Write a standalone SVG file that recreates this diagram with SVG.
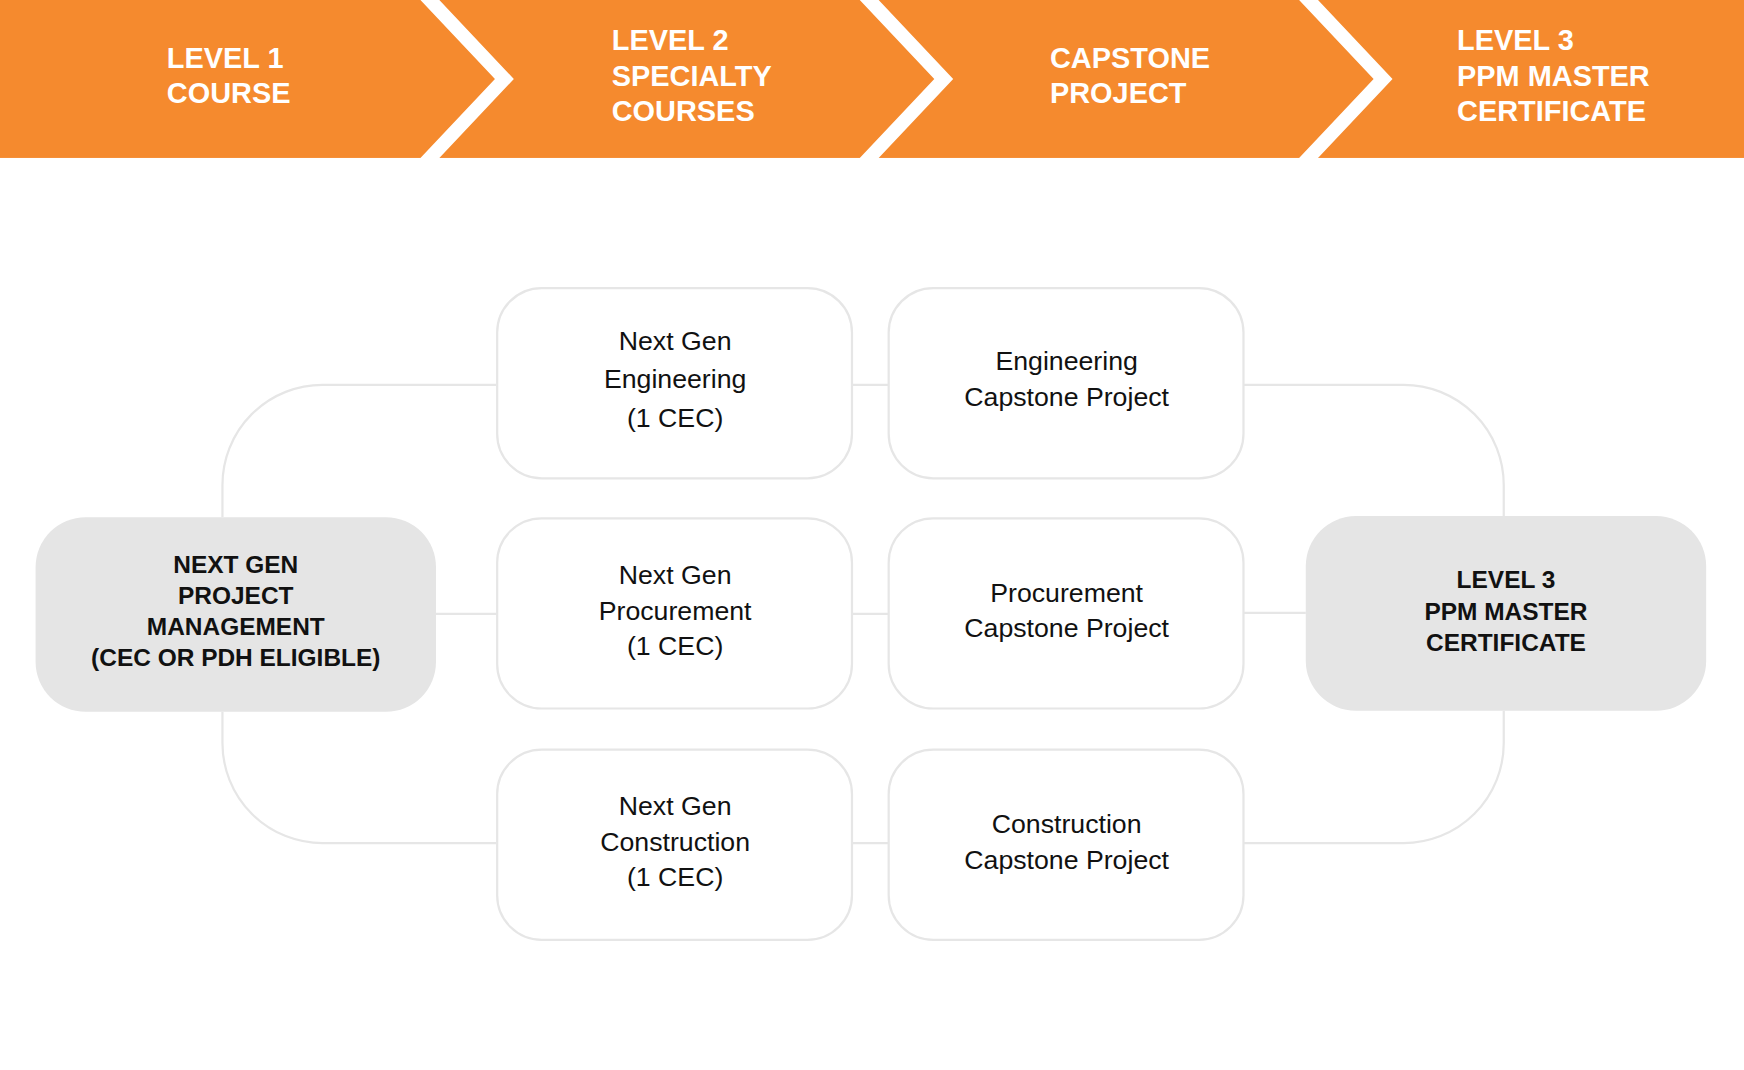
<svg xmlns="http://www.w3.org/2000/svg" width="1744" height="1070" viewBox="0 0 1744 1070">
<style>
.ban{fill:#fff;font-family:"Liberation Sans",Arial,sans-serif;font-weight:bold;font-size:26px}
.box{fill:#fff;stroke:#e6e6e6;stroke-width:2}
.gbox{fill:#e5e5e5}
.t{font-family:"Liberation Sans",Arial,sans-serif;font-size:24px;fill:#111;text-anchor:middle}
.tb{font-family:"Liberation Sans",Arial,sans-serif;font-size:22px;font-weight:bold;fill:#111;text-anchor:middle}
.c{fill:none;stroke:#e6e6e6;stroke-width:2}
</style>
<rect width="1744" height="1070" fill="#fff"/>
<g transform="scale(1.11224)">
<g id="banner">
<rect x="0" y="0" width="1568" height="142" fill="#F58A2E"/>
<polygon points="378,0 395,0 462,71 395,142 378,142 445,71" fill="#fff"/>
<polygon points="773,0 790,0 857,71 790,142 773,142 840,71" fill="#fff"/>
<polygon points="1168,0 1185,0 1252,71 1185,142 1168,142 1235,71" fill="#fff"/>
<text class="ban" x="150" y="61">LEVEL 1</text><text class="ban" x="150" y="93">COURSE</text>
<text class="ban" x="550" y="45">LEVEL 2</text><text class="ban" x="550" y="77">SPECIALTY</text><text class="ban" x="550" y="109">COURSES</text>
<text class="ban" x="944" y="61">CAPSTONE</text><text class="ban" x="944" y="93">PROJECT</text>
<text class="ban" x="1310" y="45">LEVEL 3</text><text class="ban" x="1310" y="77">PPM MASTER</text><text class="ban" x="1310" y="109">CERTIFICATE</text>
</g>
<g id="connectors">
<path class="c" d="M446,346 H290 A90,90 0 0 0 200,436 V465"/>
<path class="c" d="M200,640 V668 A90,90 0 0 0 290,758 H446"/>
<path class="c" d="M392,552 H447"/>
<path class="c" d="M766,346 H799 M766,552 H799 M766,758 H799"/>
<path class="c" d="M1118,346 H1262 A90,90 0 0 1 1352,436 V464"/>
<path class="c" d="M1118,551 H1174"/>
<path class="c" d="M1352,639 V668 A90,90 0 0 1 1262,758 H1118"/>
</g>
<g id="start"><rect class="gbox" x="32" y="465" width="360" height="175" rx="45"/>
<text class="tb" x="212" y="515">NEXT GEN</text><text class="tb" x="212" y="543">PROJECT</text><text class="tb" x="212" y="571">MANAGEMENT</text><text class="tb" x="212" y="599">(CEC OR PDH ELIGIBLE)</text></g>
<g id="eng"><rect class="box" x="447" y="259" width="319" height="171" rx="40"/>
<text class="t" x="607" y="315">Next Gen</text><text class="t" x="607" y="349">Engineering</text><text class="t" x="607" y="384">(1 CEC)</text></g>
<g id="proc"><rect class="box" x="447" y="466" width="319" height="171" rx="40"/>
<text class="t" x="607" y="525">Next Gen</text><text class="t" x="607" y="557">Procurement</text><text class="t" x="607" y="589">(1 CEC)</text></g>
<g id="cons"><rect class="box" x="447" y="674" width="319" height="171" rx="40"/>
<text class="t" x="607" y="733">Next Gen</text><text class="t" x="607" y="765">Construction</text><text class="t" x="607" y="797">(1 CEC)</text></g>
<g id="engcap"><rect class="box" x="799" y="259" width="319" height="171" rx="40"/>
<text class="t" x="959" y="333">Engineering</text><text class="t" x="959" y="365">Capstone Project</text></g>
<g id="proccap"><rect class="box" x="799" y="466" width="319" height="171" rx="40"/>
<text class="t" x="959" y="541">Procurement</text><text class="t" x="959" y="573">Capstone Project</text></g>
<g id="conscap"><rect class="box" x="799" y="674" width="319" height="171" rx="40"/>
<text class="t" x="959" y="749">Construction</text><text class="t" x="959" y="781">Capstone Project</text></g>
<g id="end"><rect class="gbox" x="1174" y="464" width="360" height="175" rx="45"/>
<text class="tb" x="1354" y="529">LEVEL 3</text><text class="tb" x="1354" y="557">PPM MASTER</text><text class="tb" x="1354" y="585">CERTIFICATE</text></g>
</g>
</svg>
